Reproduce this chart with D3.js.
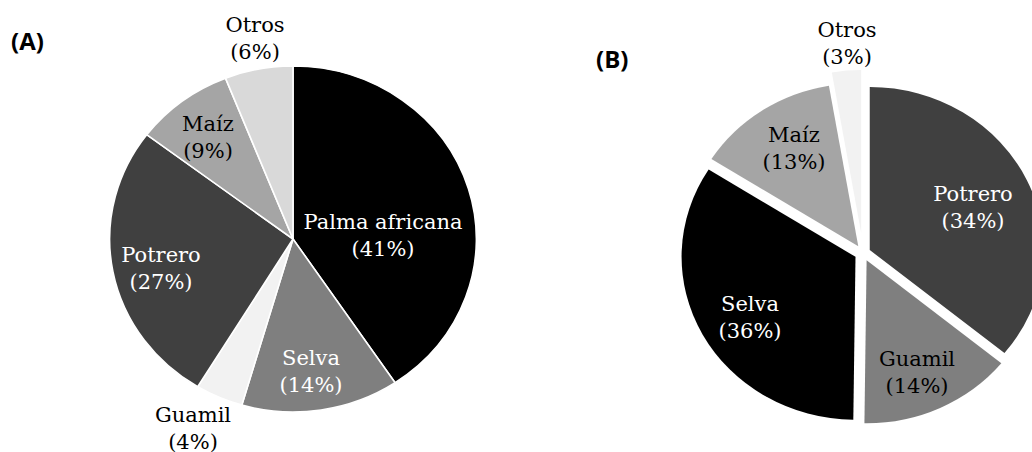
<!DOCTYPE html>
<html><head><meta charset="utf-8">
<script src="https://cdn.jsdelivr.net/npm/d3@7"></script>
<style>body{margin:0;background:#fff}svg{display:block}</style>
</head><body>
<svg id="c" width="1032" height="452"></svg>
<script>
// ---- data ----
const categoriesA = ["Palma africana", "Selva", "Guamil", "Potrero", "Maíz", "Otros"];
const valuesA     = [40.6, 13.9, 4.2, 26.6, 8.7, 6.0];
const pctLabelsA  = ["41%", "14%", "4%", "27%", "9%", "6%"];

const categoriesB = ["Potrero", "Guamil", "Selva", "Maíz", "Otros"];
const valuesB     = [35.9, 14.3, 33.8, 13.3, 2.7];
const pctLabelsB  = ["34%", "14%", "36%", "13%", "3%"];

// ---- style / layout ----
const colorsA = ["#000000", "#7f7f7f", "#f2f2f2", "#404040", "#a5a5a5", "#d9d9d9"];
const textA   = ["#fff", "#fff", "#000", "#fff", "#000", "#000"];
const labelOffA = [[90,-4],[18,132],[-100,189],[-132,29],[-85,-102],[-38,-201]];

const colorsB = ["#404040", "#7f7f7f", "#000000", "#a5a5a5", "#f2f2f2"];
const textB   = ["#fff", "#000", "#fff", "#000", "#000"];
const explodeB = [7, 8, 8, 8, 20];
const labelOffB = [[110,-46],[54,119],[-113,64],[-69,-105],[-16,-210]];

const svg = d3.select("#c");
const FONT = "'DejaVu Serif', serif";
const FS = 21, LH = 26.7;

function drawPie(cfg) {
  const pie = d3.pie().sort(null).value(d => d);
  const arcs = pie(cfg.values);
  const arc = d3.arc().innerRadius(0).outerRadius(cfg.r);
  const g = svg.append("g").attr("transform", `translate(${cfg.cx},${cfg.cy}) scale(${cfg.sx},1)`);
  g.selectAll("path").data(arcs).join("path")
    .attr("d", arc)
    .attr("fill", (d, i) => cfg.colors[i])
    .attr("stroke", cfg.stroke ? "#fff" : "none")
    .attr("stroke-width", 1.6)
    .attr("vector-effect", "non-scaling-stroke")
    .attr("transform", (d, i) => {
      const e = cfg.explode ? cfg.explode[i] : 0;
      const a = (d.startAngle + d.endAngle) / 2;
      return `translate(${e * Math.sin(a)},${-e * Math.cos(a)})`;
    });
  const lg = svg.append("g").attr("transform", `translate(${cfg.cx},${cfg.cy})`);
  cfg.cats.forEach((c, i) => {
    const [dx, dy] = cfg.labelOff[i];
    const t = lg.append("text")
      .attr("x", dx).attr("y", dy)
      .attr("text-anchor", "middle")
      .attr("font-family", FONT).attr("font-size", FS)
      .attr("fill", cfg.textColors[i]);
    t.append("tspan").attr("x", dx).attr("dy", -LH / 2 + FS * 0.35).text(c);
    t.append("tspan").attr("x", dx).attr("dy", LH).text(`(${cfg.pcts[i]})`);
  });
}

drawPie({cx: 293, cy: 239, r: 173, sx: 1.06, values: valuesA, colors: colorsA,
  cats: categoriesA, pcts: pctLabelsA, textColors: textA, labelOff: labelOffA, stroke: true});
drawPie({cx: 863, cy: 253, r: 163, sx: 1.067, values: valuesB, colors: colorsB,
  cats: categoriesB, pcts: pctLabelsB, textColors: textB, labelOff: labelOffB, explode: explodeB, stroke: false});

svg.append("text").attr("x", 11).attr("y", 50)
  .attr("font-family", "'Open Sans', sans-serif").attr("font-weight", 700).attr("font-size", 24)
  .text("(A)");
svg.append("text").attr("x", 596).attr("y", 68)
  .attr("font-family", "'Open Sans', sans-serif").attr("font-weight", 700).attr("font-size", 24)
  .text("(B)");
</script>
</body></html>
